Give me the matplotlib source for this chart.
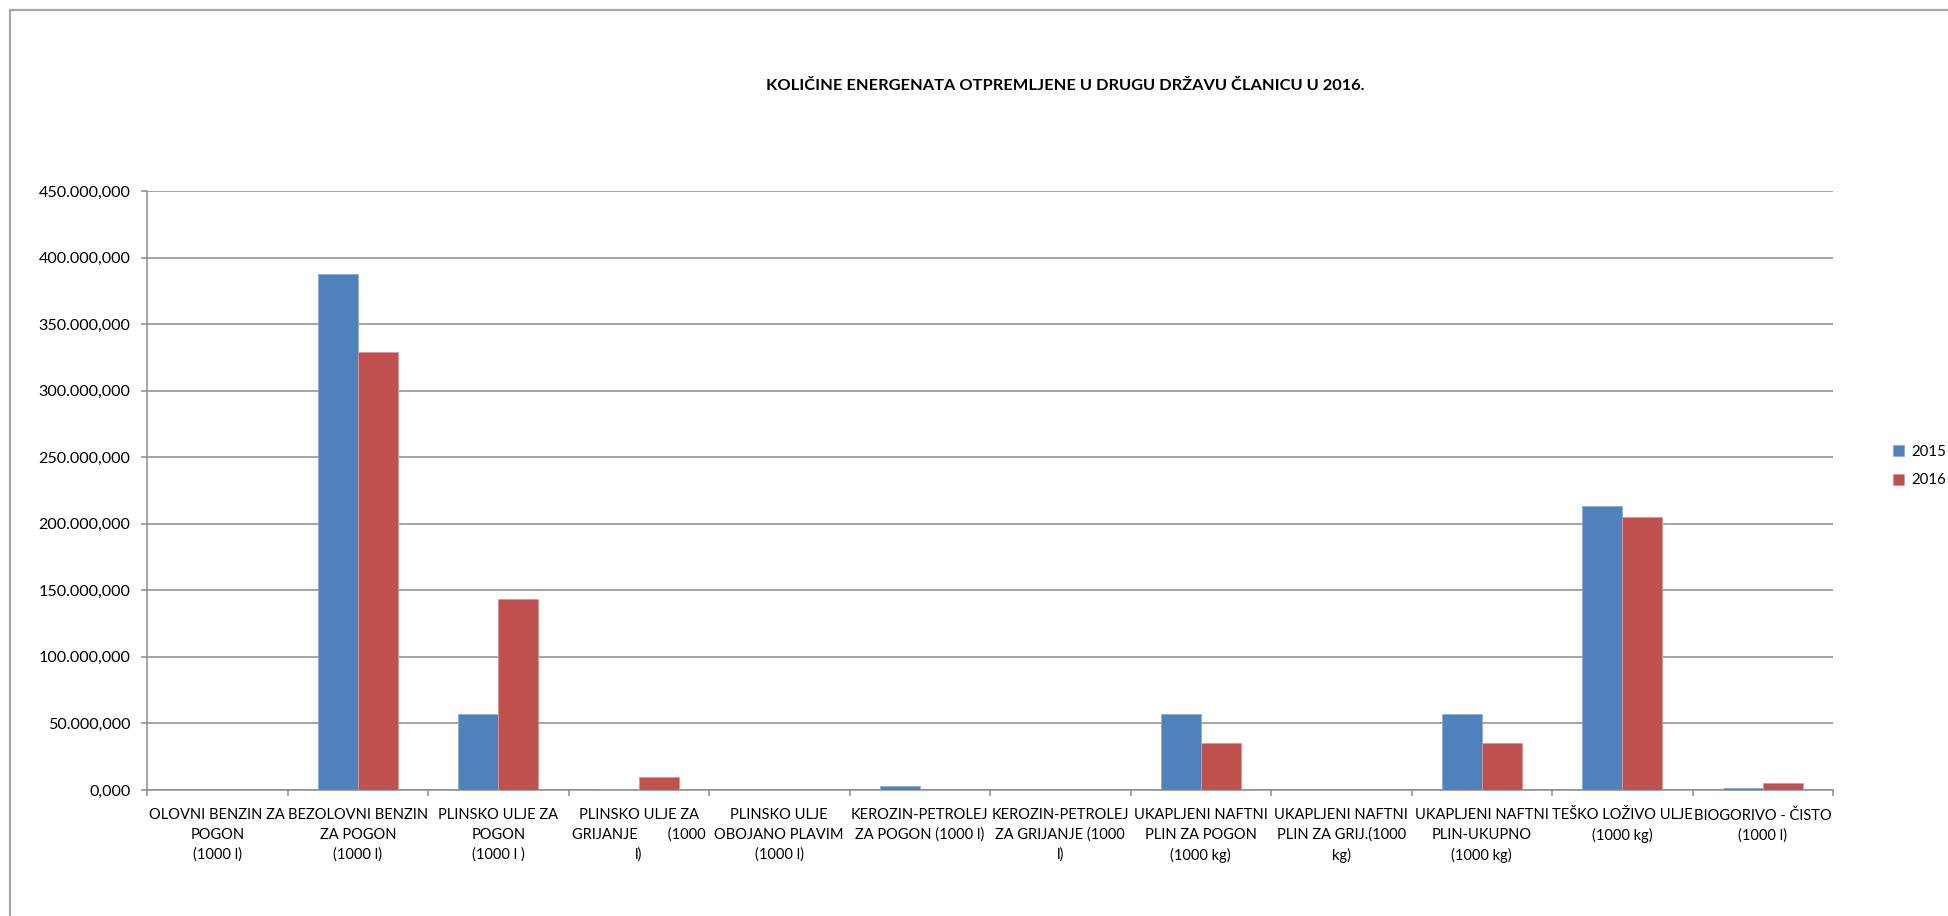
import matplotlib
matplotlib.use('Agg')
import matplotlib.pyplot as plt
from matplotlib.ticker import FuncFormatter, MultipleLocator
from matplotlib.patches import Rectangle
import numpy as np

categories = [
    "OLOVNI BENZIN ZA\nPOGON\n(1000 l)",
    "BEZOLOVNI BENZIN\nZA POGON\n(1000 l)",
    "PLINSKO ULJE ZA\nPOGON\n(1000 l )",
    "PLINSKO ULJE ZA\nGRIJANJE        (1000\nl)",
    "PLINSKO ULJE\nOBOJANO PLAVIM\n(1000 l)",
    "KEROZIN-PETROLEJ\nZA POGON (1000 l)",
    "KEROZIN-PETROLEJ\nZA GRIJANJE (1000\nl)",
    "UKAPLJENI NAFTNI\nPLIN ZA POGON\n(1000 kg)",
    "UKAPLJENI NAFTNI\nPLIN ZA GRIJ.(1000\nkg)",
    "UKAPLJENI NAFTNI\nPLIN-UKUPNO\n(1000 kg)",
    "TEŠKO LOŽIVO ULJE\n(1000 kg)",
    "BIOGORIVO - ČISTO\n(1000 l)",
]
values_2015 = [0, 388000, 57250, 700, 0, 3000, 0, 57250, 0, 57250, 213300, 1500]
values_2016 = [0, 328700, 143500, 9500, 0, 0, 0, 35500, 0, 35500, 205000, 5200]
series_labels = ["2015", "2016"]
title = "KOLIČINE ENERGENATA OTPREMLJENE U DRUGU DRŽAVU ČLANICU U 2016."

BLUE = "#4F81BD"
RED = "#C0504D"
GRID = "#8C8C8C"
FONT = ["Lato", "DejaVu Sans"]

W, H = 1948, 916
fig = plt.figure(figsize=(W / 100, H / 100), dpi=100)
fig.patch.set_facecolor("white")

# chart area border (runs off the right and bottom edge in the reference)
fig.patches.append(Rectangle((9.5 / W, -0.1), 1.2, 1 - 10 / H + 0.1,
                             transform=fig.transFigure, fill=False,
                             edgecolor="#A6A6A6", lw=1.6))

ax = fig.add_axes([147 / W, 1 - 790 / H, (1833 - 147) / W, (790 - 191) / H])

x = np.arange(len(categories))
w = 1 / 3.5
b1 = ax.bar(x - w / 2, values_2015, w, color=BLUE, edgecolor="#8DAED6", lw=0.6, zorder=3)
b2 = ax.bar(x + w / 2, values_2016, w, color=RED, edgecolor="#D99694", lw=0.6, zorder=3)

ax.set_xlim(-0.5, len(categories) - 0.5)
ax.set_ylim(0, 450000)
ax.yaxis.set_major_locator(MultipleLocator(50000))


def hr_fmt(v, pos):
    s = f"{v:,.3f}"
    return s.replace(",", "X").replace(".", ",").replace("X", ".")


ax.yaxis.set_major_formatter(FuncFormatter(hr_fmt))
ax.grid(axis="y", color=GRID, lw=1.1, zorder=0)
ax.set_axisbelow(True)

for s in ["top", "right"]:
    ax.spines[s].set_visible(False)
for s in ["left", "bottom"]:
    ax.spines[s].set_color(GRID)
    ax.spines[s].set_linewidth(1.1)

ax.set_xticks(x)
ax.set_xticklabels(categories, fontfamily=FONT, fontsize=10.5, linespacing=1.5,
                   va="top", ha="center")
ax.set_xticks(np.arange(-0.5, len(categories)), minor=True)
ax.tick_params(axis="x", which="major", length=0, pad=13)
ax.tick_params(axis="x", which="minor", length=4, color=GRID, width=1.1)
ax.tick_params(axis="y", length=4, color=GRID, width=1.1, pad=8)
for lab in ax.get_yticklabels():
    lab.set_fontfamily(FONT)
    lab.set_fontsize(11.6)

fig.text(1065 / W, 1 - 86 / H, title, ha="center", va="center",
         fontfamily=FONT, fontweight="bold", fontsize=11.8)

fig.legend([b1, b2], series_labels, loc="center left",
           bbox_to_anchor=(1893 / W, 1 - 466 / H), frameon=False,
           prop={"family": FONT, "size": 10.8},
           handlelength=0.75, handleheight=0.75, handletextpad=0.45,
           labelspacing=1.0, borderpad=0, borderaxespad=0)

fig.savefig("out.png", dpi=100)
